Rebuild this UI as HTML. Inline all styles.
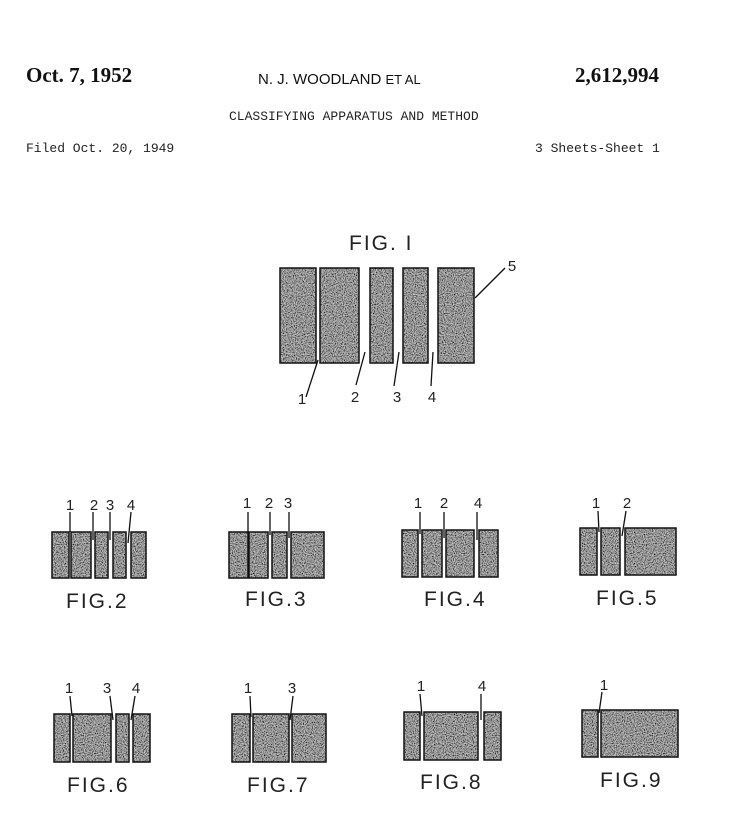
<!DOCTYPE html>
<html><head><meta charset="utf-8"><style>
html,body{margin:0;padding:0;background:#fff;width:740px;height:826px;overflow:hidden}
</style></head><body>
<svg width="740" height="826" viewBox="0 0 740 826" xmlns="http://www.w3.org/2000/svg">
<defs>
<filter id="st" x="0" y="0" width="100%" height="100%">
<feTurbulence type="fractalNoise" baseFrequency="0.9" numOctaves="1" seed="3" result="n"/>
<feColorMatrix type="matrix" values="0 0 0 0 0  0 0 0 0 0  0 0 0 0 0  0 0 0 -2.2 1.6" in="n" result="d"/>
<feFlood flood-color="#cccccc" result="bg"/>
<feComposite in="d" in2="bg" operator="over" result="c"/>
<feComposite in="c" in2="SourceGraphic" operator="in"/>
</filter>
<g id="bars">
<rect x="280" y="268" width="36" height="95"/><rect x="320" y="268" width="39" height="95"/><rect x="370" y="268" width="23" height="95"/><rect x="403" y="268" width="25" height="95"/><rect x="438" y="268" width="36" height="95"/>
<rect x="52" y="532" width="17" height="46"/><rect x="71" y="532" width="20" height="46"/><rect x="95" y="532" width="13" height="46"/><rect x="113" y="532" width="13" height="46"/><rect x="131" y="532" width="15" height="46"/>
<rect x="229" y="532" width="19" height="46"/><rect x="249" y="532" width="19" height="46"/><rect x="272" y="532" width="15" height="46"/><rect x="291" y="532" width="33" height="46"/>
<rect x="402" y="530" width="16" height="47"/><rect x="422" y="530" width="20" height="47"/><rect x="446" y="530" width="28" height="47"/><rect x="479" y="530" width="19" height="47"/>
<rect x="580" y="528" width="17" height="47"/><rect x="601" y="528" width="19" height="47"/><rect x="625" y="528" width="51" height="47"/>
<rect x="54" y="714" width="16" height="48"/><rect x="73" y="714" width="38" height="48"/><rect x="116" y="714" width="13" height="48"/><rect x="133" y="714" width="17" height="48"/>
<rect x="232" y="714" width="18" height="48"/><rect x="253" y="714" width="36" height="48"/><rect x="292" y="714" width="34" height="48"/>
<rect x="404" y="712" width="16" height="48"/><rect x="424" y="712" width="54" height="48"/><rect x="484" y="712" width="17" height="48"/>
<rect x="582" y="710" width="16" height="47"/><rect x="601" y="710" width="77" height="47"/>
</g>
</defs>
<g font-family="Liberation Serif, serif" font-weight="bold" font-size="21" fill="#111">
<text x="26" y="82">Oct. 7, 1952</text>
<text x="575" y="82">2,612,994</text>
</g>
<text x="258" y="84" font-family="Liberation Sans, sans-serif" font-size="15" fill="#111">N. J. WOODLAND <tspan font-size="13">ET AL</tspan></text>
<g font-family="Liberation Mono, monospace" font-size="13" fill="#222">
<text x="229" y="120">CLASSIFYING APPARATUS AND METHOD</text>
<text x="26" y="152">Filed Oct. 20, 1949</text>
<text x="535" y="152">3 Sheets-Sheet 1</text>
</g>
<g font-family="Liberation Sans, sans-serif" fill="#222" font-size="21" letter-spacing="2">
<text x="349" y="250">FIG. I</text>
<text x="66" y="608">FIG.2</text>
<text x="245" y="606">FIG.3</text>
<text x="424" y="606">FIG.4</text>
<text x="596" y="605">FIG.5</text>
<text x="67" y="792">FIG.6</text>
<text x="247" y="792">FIG.7</text>
<text x="420" y="789">FIG.8</text>
<text x="600" y="787">FIG.9</text>
</g>
<g fill="#777" filter="url(#st)"><use href="#bars"/></g>
<g fill="none" stroke="#111" stroke-width="1.5"><use href="#bars"/></g>
<g stroke="#111" stroke-width="1.3" fill="none">
<line x1="318" y1="360" x2="306" y2="397"/><line x1="365" y1="352" x2="356" y2="385"/><line x1="399" y1="352" x2="394" y2="386"/><line x1="433" y1="352" x2="431" y2="386"/><line x1="475" y1="298" x2="505" y2="268"/>
<line x1="70" y1="512" x2="70" y2="532"/><line x1="93" y1="512" x2="93" y2="540"/><line x1="110" y1="512" x2="110" y2="540"/><line x1="131" y1="512" x2="128" y2="543"/>
<line x1="248" y1="512" x2="248" y2="533"/><line x1="270" y1="512" x2="270" y2="535"/><line x1="289" y1="512" x2="289" y2="538"/>
<line x1="420" y1="512" x2="420" y2="534"/><line x1="444" y1="512" x2="444" y2="538"/><line x1="477" y1="512" x2="477" y2="540"/>
<line x1="598" y1="511" x2="599" y2="532"/><line x1="626" y1="511" x2="622" y2="536"/>
<line x1="70" y1="696" x2="72" y2="716"/><line x1="110" y1="696" x2="113" y2="720"/><line x1="135" y1="696" x2="131" y2="720"/>
<line x1="250" y1="696" x2="251" y2="717"/><line x1="293" y1="696" x2="290" y2="720"/>
<line x1="420" y1="694" x2="422" y2="716"/><line x1="481" y1="694" x2="481" y2="720"/>
<line x1="602" y1="692" x2="599" y2="713"/>
</g>
<g font-family="Liberation Sans, sans-serif" font-size="15" fill="#222" text-anchor="middle">
<text x="302" y="404">1</text><text x="355" y="402">2</text><text x="397" y="402">3</text><text x="432" y="402">4</text><text x="512" y="271">5</text>
<text x="70" y="510">1</text><text x="94" y="510">2</text><text x="110" y="510">3</text><text x="131" y="510">4</text>
<text x="247" y="508">1</text><text x="269" y="508">2</text><text x="288" y="508">3</text>
<text x="418" y="508">1</text><text x="444" y="508">2</text><text x="478" y="508">4</text>
<text x="596" y="508">1</text><text x="627" y="508">2</text>
<text x="69" y="693">1</text><text x="107" y="693">3</text><text x="136" y="693">4</text>
<text x="248" y="693">1</text><text x="292" y="693">3</text>
<text x="421" y="691">1</text><text x="482" y="691">4</text>
<text x="604" y="690">1</text>
</g>
</svg>
</body></html>
